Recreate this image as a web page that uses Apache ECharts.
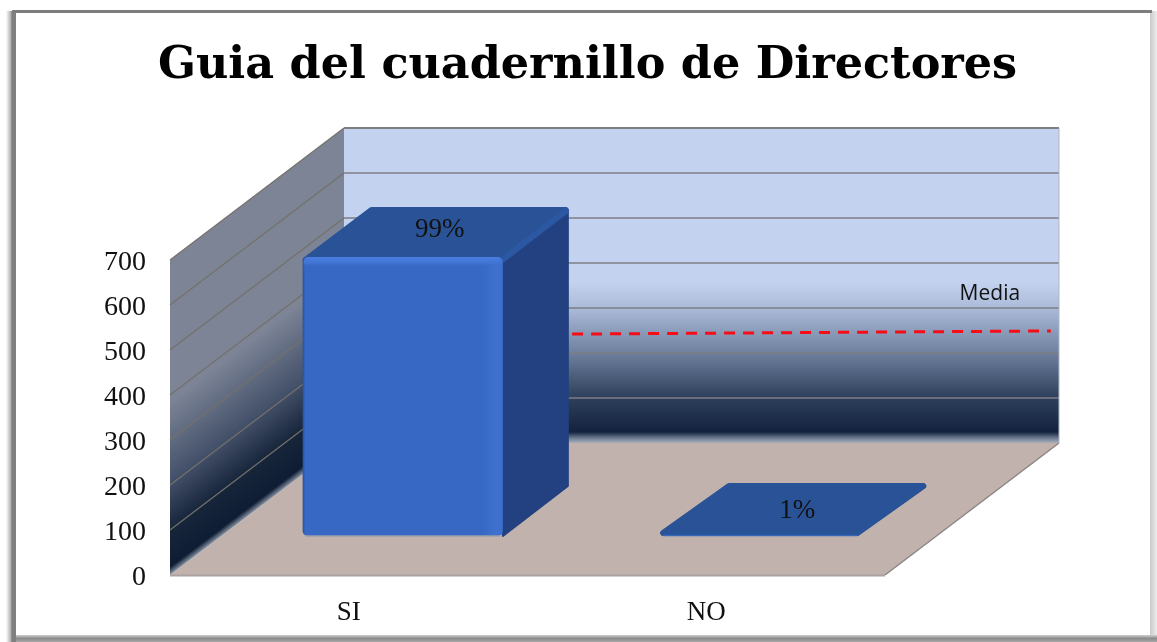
<!DOCTYPE html>
<html><head><meta charset="utf-8">
<style>html,body{margin:0;padding:0;background:#fff}#c{width:1157px;height:642px}</style>
<script src="https://cdn.jsdelivr.net/npm/echarts@6/dist/echarts.min.js"></script>
</head><body><div id="c"></div>
<script>
const titleText = 'Guia del cuadernillo de Directores';
const categories = ['SI', 'NO'];
const barValues = [620, 6];
const percentLabels = ['99%', '1%'];
const tickValues = [0, 100, 200, 300, 400, 500, 600, 700];
const mediaValues = [242, 249];
const mediaLabel = 'Media';

// oblique projection used by the 3-D look
const WALL_DX = 174, WALL_DY = -132;   // front plane -> back wall
const BAR_OX = 54, BAR_OY = -39;       // front plane -> front of the bars
const BAR_DX = 66, BAR_DY = -50;       // depth of a bar
const BAR_RATIO = 0.56;
const serif = '"Liberation Serif", serif';

const poly = (points, style, z2) => ({type: 'polygon', shape: {points}, style, z2: z2 || 0});
const seg = (a, b, stroke, lineWidth, lineCap) => ({type: 'line', shape: {x1: a[0], y1: a[1], x2: b[0], y2: b[1]}, style: {stroke, lineWidth, lineCap: lineCap || 'butt'}});

function renderRoom(params, api) {
  const cs = params.coordSys;
  const L = cs.x, R = cs.x + cs.width;
  const y0 = api.coord([0, 0])[1], yT = api.coord([0, tickValues[tickValues.length - 1]])[1];
  const b = (p) => [p[0] + WALL_DX, p[1] + WALL_DY];
  const kids = [];
  // floor
  kids.push(poly([[L, y0], [R, y0], b([R, y0]), b([L, y0])], {fill: '#c1b2ae'}));
  kids.push(seg([L, y0 + 0.5], [R, y0 + 0.5], '#aba1a0', 2));
  kids.push(seg([R, y0], b([R, y0]), '#8b8684', 1.5));
  // back wall
  const bb = b([L, yT]), bB = b([L, y0]);
  kids.push(poly([bb, [b([R, yT])[0], bb[1]], [b([R, y0])[0], bB[1]], bB], {
    fill: new echarts.graphic.LinearGradient(0, 0, 0, 1, [
      {offset: 0, color: '#c3d2ee'}, {offset: 0.49, color: '#c3d2ee'},
      {offset: 0.57, color: '#abbbd9'}, {offset: 0.714, color: '#6f809f'},
      {offset: 0.857, color: '#2e3f5b'}, {offset: 0.965, color: '#13233f'},
      {offset: 0.985, color: '#6f7c90'}, {offset: 1, color: '#aab0bc'}])
  }));
  // side wall: gradient isolines run along the wall's depth direction
  const len = Math.hypot(WALL_DX, WALL_DY), nx = -WALL_DY / len, ny = WALL_DX / len;
  const span = (y0 - yT) * ny;
  const sideGrad = new echarts.graphic.LinearGradient(L, yT, L + nx * span, yT + ny * span, [
    {offset: 0, color: '#7c8496'}, {offset: 0.45, color: '#7c8496'},
    {offset: 0.70, color: '#44516a'}, {offset: 0.86, color: '#17253b'},
    {offset: 0.975, color: '#0e1d33'}, {offset: 1, color: '#8a95a5'}], true);
  kids.push(poly([[L, yT], b([L, yT]), bB, [L, y0]], {fill: sideGrad}));
  // gridlines
  tickValues.forEach((v) => {
    const y = api.coord([0, v])[1];
    if (v > 0) {
      kids.push(seg(b([L, y]), b([R, y]), '#7c7e84', v === 700 ? 2 : 1.6));
      kids.push(seg([L, y], b([L, y]), '#74716a', 1.2));
    }
  });
  kids.push(seg(b([R, yT]), b([R, y0]), '#aeb6c6', 1));
  return {type: 'group', children: kids};
}

function renderBar(params, api) {
  const cx = api.coord([api.value(0), 0])[0] + BAR_OX;
  const yB = api.coord([0, 0])[1] + BAR_OY;
  const yT = api.coord([0, api.value(1)])[1] + BAR_OY;
  const w = api.size([1, 0])[0] * BAR_RATIO;
  const x0 = cx - w / 2, x1 = cx + w / 2;
  const tall = yB - yT > 12;
  const kids = [];
  const back = (p) => [p[0] + BAR_DX, p[1] + BAR_DY];
  const inset = 3;
  const topStyle = {fill: '#2a5296', stroke: '#2a5296', lineWidth: 6, lineJoin: 'round'};
  if (tall) {
    // right face
    kids.push(poly([[x1, yT + 4], back([x1 - 1, yT + 5]), back([x1 - 1, yB]), [x1, yB]],
      {fill: '#234180', stroke: '#234180', lineWidth: 2, lineJoin: 'round'}));
    // top face
    kids.push(poly([[x0 + inset, yT + inset], [x1 - inset, yT + inset], back([x1 - inset, yT + inset]), back([x0 + inset, yT + inset])], topStyle));
    kids.push(seg([x1 - 1, yT + 3], back([x1 - 3, yT + 4]), '#2c58a3', 6, 'round'));
    // front face
    kids.push({type: 'rect', shape: {x: x0, y: yT, width: w, height: yB - yT, r: 5}, style: {
      fill: new echarts.graphic.LinearGradient(0, 0, 1, 0, [
        {offset: 0, color: '#28508f'}, {offset: 0.012, color: '#3668c4'},
        {offset: 0.90, color: '#3668c4'}, {offset: 0.97, color: '#3f72d0'}, {offset: 1, color: '#3c6ecc'}])
    }});
    kids.push({type: 'rect', shape: {x: x0 + 1, y: yT, width: w - 2, height: 11, r: [5, 5, 0, 0]}, style: {
      fill: new echarts.graphic.LinearGradient(0, 0, 0, 1, [
        {offset: 0, color: '#4a7ede'}, {offset: 0.5, color: '#4276d6'}, {offset: 1, color: 'rgba(54,104,196,0)'}])
    }});
    kids.push(seg([x0 + 3, yB], [x1 - 3, yB], '#9a9ca8', 1.5));
  } else {
    // a nearly flat bar only shows its top, sitting on the floor
    const yF = yB - inset;
    kids.push(poly([[x0 + inset, yF], [x1 - inset, yF],
      [x1 - inset + BAR_DX, yF + BAR_DY + inset], [x0 + inset + BAR_DX, yF + BAR_DY + inset]], topStyle));
    kids.push(seg([x0 + 3, yB - 0.5], [x1 - 3, yB - 0.5], '#3a68b8', 1.5));
  }
  kids.push({type: 'text', style: {
    text: percentLabels[params.dataIndex], x: cx + BAR_DX / 2 + 4, y: yT + BAR_DY / 2 + (tall ? -2 : 3),
    align: 'center', verticalAlign: 'middle', font: '27px ' + serif, fill: '#111'
  }, z2: 10});
  return {type: 'group', children: kids};
}

function renderMedia(params, api) {
  const cs = params.coordSys;
  const x0 = cs.x + 0.319 * cs.width + WALL_DX, x1 = cs.x + 0.9886 * cs.width + WALL_DX;
  const y0 = api.coord([0, mediaValues[0]])[1] + WALL_DY, y1 = api.coord([0, mediaValues[1]])[1] + WALL_DY;
  return {type: 'group', children: [
    {type: 'line', shape: {x1: x0, y1: y0, x2: x1, y2: y1},
     style: {stroke: '#f60d16', lineWidth: 3, lineDash: [11, 8]}},
    {type: 'text', style: {text: mediaLabel, x: x1 - 61, y: y1 - 37, align: 'center', verticalAlign: 'middle',
      font: '21px "Open Sans", sans-serif', fill: '#111'}}
  ]};
}

const frame = [
  {type: 'rect', shape: {x: 1150, y: 11, width: 7, height: 631}, style: {fill: new echarts.graphic.LinearGradient(0,0,1,0,[{offset:0,color:'#c9c9c9'},{offset:1,color:'#ededed'}])}},
  {type: 'rect', shape: {x: 13, y: 635, width: 1144, height: 7}, style: {fill: new echarts.graphic.LinearGradient(0,0,0,1,[{offset:0,color:'#cfcfcf'},{offset:0.5,color:'#8c8c8c'},{offset:1,color:'#a8a8a8'}])}},
  {type: 'rect', shape: {x: 6, y: 11, width: 10, height: 631}, style: {fill: new echarts.graphic.LinearGradient(0,0,1,0,[{offset:0,color:'#ffffff'},{offset:0.45,color:'#b5b5b5'},{offset:0.6,color:'#7f7f7f'},{offset:0.95,color:'#7f7f7f'},{offset:1,color:'#ffffff'}])}},
  {type: 'rect', shape: {x: 12, y: 10, width: 1140, height: 3}, style: {fill: '#7d7d7d'}}
];

const chart = echarts.init(document.getElementById('c'), null, {renderer: 'canvas'});
chart.setOption({
  animation: false,
  backgroundColor: '#fff',
  title: {
    text: titleText, left: 153, top: 39,
    textStyle: {fontFamily: '"DejaVu Serif", serif', fontWeight: 'bold', fontSize: 44.5, color: '#000'}
  },
  graphic: frame.map(f => Object.assign({silent: true, z: 100}, f)),
  grid: {left: 170, right: 272, top: 260, bottom: 67},
  xAxis: {type: 'category', data: categories, axisLine: {show: false}, axisTick: {show: false},
    axisLabel: {fontFamily: serif, fontSize: 27, color: '#111', margin: 24}},
  yAxis: {type: 'value', min: 0, max: 700, interval: 100, splitLine: {show: false},
    axisLine: {show: false}, axisTick: {show: false},
    axisLabel: {fontFamily: serif, fontSize: 28, color: '#111', margin: 24, verticalAlign: 'top', lineHeight: 6}},
  series: [
    {type: 'custom', name: 'room', renderItem: renderRoom, data: [[0, 0]], encode: {x: 0, y: 1}, z: 1, silent: true},
    {type: 'custom', name: 'media', renderItem: renderMedia, data: [[0, mediaValues[0]]], encode: {x: 0, y: 1}, z: 2, silent: true},
    {type: 'custom', name: 'bars', renderItem: renderBar, data: barValues.map((v, i) => [i, v]), encode: {x: 0, y: 1}, z: 3, silent: true}
  ]
});
</script></body></html>
